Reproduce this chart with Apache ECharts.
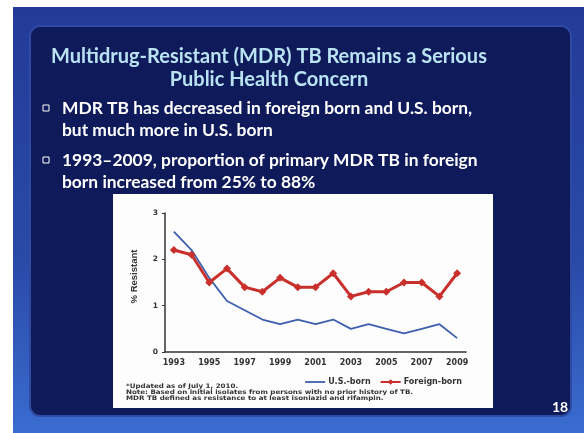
<!DOCTYPE html>
<html>
<head>
<meta charset="utf-8">
<script src="https://cdn.jsdelivr.net/npm/echarts@6/dist/echarts.min.js"></script>
<style>
html,body{margin:0;padding:0;background:#fff;}
#chart{width:584px;height:433px;}
</style>
</head>
<body>
<div id="chart"></div>
<script>
// Primary MDR TB, percent resistant, by origin
var years = ['1993','1994','1995','1996','1997','1998','1999','2000','2001','2002','2003','2004','2005','2006','2007','2008','2009'];
var usBorn = [2.6, 2.2, 1.6, 1.1, 0.9, 0.7, 0.6, 0.7, 0.6, 0.7, 0.5, 0.6, 0.5, 0.4, 0.5, 0.6, 0.3];
var foreignBorn = [2.2, 2.1, 1.5, 1.8, 1.4, 1.3, 1.6, 1.4, 1.4, 1.7, 1.2, 1.3, 1.3, 1.5, 1.5, 1.2, 1.7];
var seriesNames = ['U.S.-born', 'Foreign-born'];
var yTicks = [0, 1, 2, 3];

var titleLines = ['Multidrug-Resistant (MDR) TB Remains a Serious', 'Public Health Concern'];
var bullets = [
  ['MDR TB has decreased in foreign born and U.S. born,', 'but much more in U.S. born'],
  ['1993\u20132009, proportion of primary MDR TB in foreign', 'born increased from 25% to 88%']
];
var notes = [
  '*Updated as of July 1, 2010.',
  'Note: Based on initial isolates from persons with no prior history of TB.',
  'MDR TB defined as resistance to at least isoniazid and rifampin.'
];
var slideNumber = '18';

var chart = echarts.init(document.getElementById('chart'), null, {renderer: 'canvas'});

var FONT = 'Lato, "Open Sans", sans-serif';
var CHART_FONT = '"DejaVu Sans", sans-serif';
var graphics = [
  // slide background
  {type: 'rect', z: -10, shape: {x: 13, y: 7, width: 571, height: 426},
   style: {fill: new echarts.graphic.LinearGradient(0, 0, 0, 1, [
     {offset: 0, color: '#233a98'}, {offset: 0.6, color: '#2a4aa8'}, {offset: 1, color: '#3a6cd0'}])}},
  // dark content panel
  {type: 'rect', z: -9, shape: {x: 30, y: 26, width: 541, height: 390, r: 10},
   style: {fill: '#0e1a5a', stroke: '#2e4aa2', lineWidth: 2}},
  // white chart box
  {type: 'rect', z: -8, shape: {x: 113, y: 194, width: 380, height: 214},
   style: {fill: '#fdfdfd'}}
];

titleLines.forEach(function (t, i) {
  graphics.push({type: 'text', x: 269, y: 57 + i * 23, z: 5,
    style: {text: t, fill: '#b9e2f2', font: 'bold 20px ' + FONT, textAlign: 'center', textVerticalAlign: 'middle'}});
});
var by = [108, 160];
bullets.forEach(function (b, i) {
  graphics.push({type: 'rect', z: 5, shape: {x: 43, y: by[i] - 3, width: 6, height: 6},
    style: {fill: 'none', stroke: '#ffffff', lineWidth: 1}});
  b.forEach(function (t, j) {
    graphics.push({type: 'text', x: 62, y: by[i] + j * 22, z: 5,
      style: {text: t, fill: '#ffffff', font: 'bold 17.4px ' + FONT, textVerticalAlign: 'middle'}});
  });
});
// footnotes: small, slightly widened type
notes.forEach(function (t, i) {
  graphics.push({type: 'text', x: 126, y: 386 + i * 6, z: 5, scaleX: 1.15,
    style: {text: t, fill: '#333', font: 'bold 6.2px ' + CHART_FONT, textVerticalAlign: 'middle'}});
});
graphics.push({type: 'text', x: 560, y: 407, z: 5,
  style: {text: slideNumber, fill: '#ffffff', font: 'bold 14px ' + FONT, textAlign: 'center', textVerticalAlign: 'middle'}});

chart.setOption({
  animation: false,
  graphic: graphics,
  grid: {left: 165, right: 118, top: 213, bottom: 81},
  legend: {
    data: [
      // plain line swatch (invisible corner points keep the bar thin)
      {name: seriesNames[0], icon: 'path://M0,0 M20,7 M0,2.6 L20,2.6 L20,4.4 L0,4.4 Z'},
      {name: seriesNames[1]}
    ],
    right: 117, top: 373, itemWidth: 20, itemHeight: 7, itemGap: 9,
    textStyle: {fontFamily: CHART_FONT, fontWeight: 'bold', fontSize: 8, color: '#333', padding: [0, 0, 0, -2]}
  },
  xAxis: {
    type: 'category', data: years, boundaryGap: true,
    axisLine: {lineStyle: {color: '#333', width: 1.5}},
    axisTick: {show: false},
    axisLabel: {interval: 1, color: '#333', fontFamily: CHART_FONT, fontWeight: 'bold', fontSize: 8, margin: 7}
  },
  yAxis: {
    type: 'value', min: yTicks[0], max: yTicks[yTicks.length - 1], interval: 1,
    name: '% Resistant', nameLocation: 'middle', nameGap: 26,
    nameTextStyle: {color: '#333', fontFamily: '"Liberation Sans", Arial, sans-serif', fontWeight: 'bold', fontSize: 9.5,
                    padding: [0, 0, 0, 12]},
    axisLine: {show: true, lineStyle: {color: '#333', width: 1.5}},
    axisTick: {show: true, length: 3, lineStyle: {color: '#333'}},
    splitLine: {show: false},
    axisLabel: {color: '#333', fontFamily: CHART_FONT, fontWeight: 'bold', fontSize: 7.5, margin: 7}
  },
  series: [
    {name: seriesNames[0], type: 'line', data: usBorn, symbol: 'none',
     lineStyle: {color: '#3e5fae', width: 1.8}, itemStyle: {color: '#3e5fae'}},
    {name: seriesNames[1], type: 'line', data: foreignBorn, symbol: 'diamond', symbolSize: 8,
     lineStyle: {color: '#c9302c', width: 3}, itemStyle: {color: '#c9302c'}}
  ]
});
</script>
</body>
</html>
